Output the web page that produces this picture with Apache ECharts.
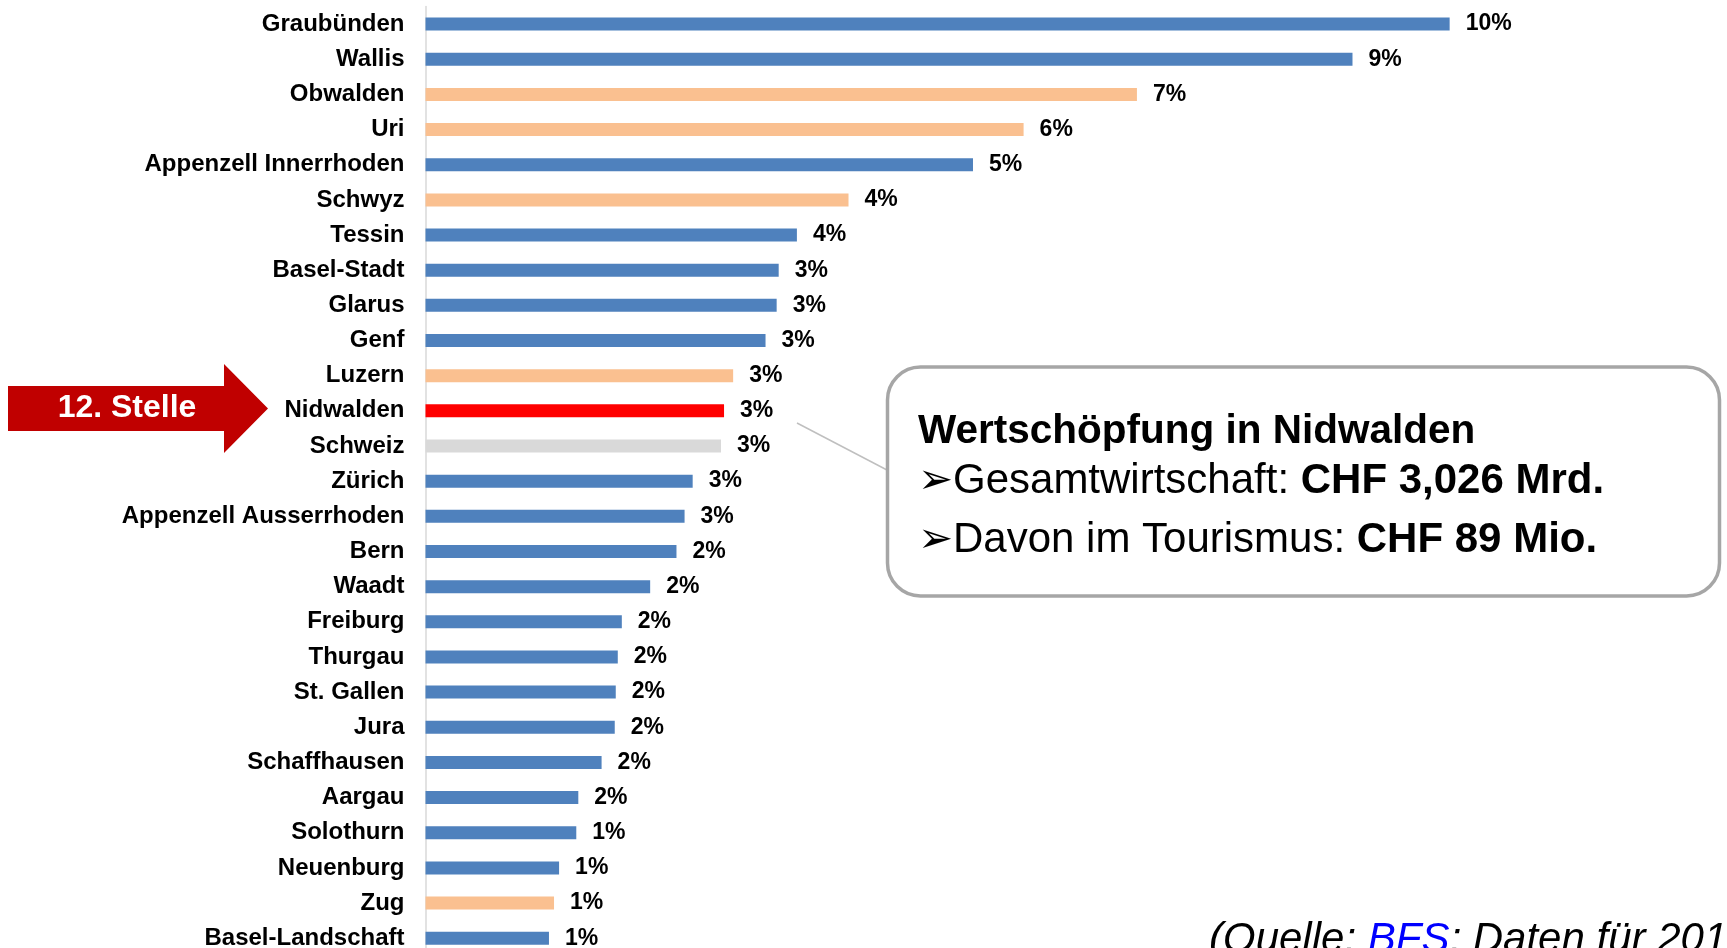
<!DOCTYPE html>
<html>
<head>
<meta charset="utf-8">
<script src="https://cdn.jsdelivr.net/npm/echarts@6/dist/echarts.min.js"></script>
<style>
html,body{margin:0;padding:0;background:#fff;}
#chart{width:1727px;height:948px;}
</style>
</head>
<body>
<div id="chart"></div>
<script>
// Tourism share of value added (%), by canton
const categories = ["Graubünden","Wallis","Obwalden","Uri","Appenzell Innerrhoden","Schwyz","Tessin","Basel-Stadt","Glarus","Genf","Luzern","Nidwalden","Schweiz","Zürich","Appenzell Ausserrhoden","Bern","Waadt","Freiburg","Thurgau","St. Gallen","Jura","Schaffhausen","Aargau","Solothurn","Neuenburg","Zug","Basel-Landschaft"];
const values = [10.12,9.16,7.03,5.91,5.41,4.18,3.67,3.49,3.47,3.36,3.04,2.95,2.92,2.64,2.56,2.48,2.22,1.94,1.90,1.88,1.87,1.74,1.51,1.49,1.32,1.27,1.22];
// group of each canton: other, zentral (Zentralschweiz), nw (Nidwalden), ch (Schweiz total)
const groups = ["other","other","zentral","zentral","other","zentral","other","other","other","other","zentral","nw","ch","other","other","other","other","other","other","other","other","other","other","other","other","zentral","other"];
const groupColors = {other:"#4F81BD", zentral:"#FAC090", nw:"#FF0000", ch:"#D9D9D9"};

const chart = echarts.init(document.getElementById('chart'), null, {renderer:'canvas'});
const FONT = "'Liberation Sans', Arial, sans-serif";
chart.setOption({
  animation:false,
  backgroundColor:'#ffffff',
  grid:{left:425.5, top:6.5, width:1214.4, height:949.3, containLabel:false, outerBoundsMode:'none'},
  xAxis:{type:'value', min:0, max:12, show:false, splitLine:{show:false}},
  yAxis:{type:'category', data:categories, inverse:true,
    axisLine:{show:true, lineStyle:{color:'#D9D9D9', width:1.5}},
    axisTick:{show:false},
    axisLabel:{color:'#000', fontFamily:FONT, fontWeight:'bold', fontSize:24, margin:21}
  },
  series:[{
    type:'bar',
    barWidth:13,
    data: values.map((v,i)=>({value:v, itemStyle:{color:groupColors[groups[i]]}})),
    label:{show:true, position:'right', distance:16, color:'#000', fontFamily:FONT, fontWeight:'bold', fontSize:23,
      formatter:p=>Math.round(p.value)+'%'}
  }],
  graphic:[
    {type:'polygon', shape:{points:[[8,386],[224,386],[224,364],[268,408.5],[224,453],[224,431],[8,431]]}, style:{fill:'#C00000'}},
    {type:'text', x:127, y:408.5, style:{text:'12. Stelle', fill:'#fff', font:"bold 32px 'Liberation Sans', Arial, sans-serif", textAlign:'center', textVerticalAlign:'middle'}},
    {type:'line', shape:{x1:797, y1:423, x2:887, y2:470}, style:{stroke:'#BFBFBF', lineWidth:1.5}},
    {type:'rect', shape:{x:887.5, y:367, width:832, height:229, r:33}, style:{fill:'#fff', stroke:'#A6A6A6', lineWidth:3.5}},
    {type:'text', x:918, y:432, style:{text:'Wertschöpfung in Nidwalden', fill:'#000', font:"bold 40.5px 'Liberation Sans', Arial, sans-serif", textVerticalAlign:'middle'}},
    {type:'text', x:918, y:481, style:{text:'{a|➢Gesamtwirtschaft: }{b|CHF 3,026 Mrd.}', textVerticalAlign:'middle',
      rich:{a:{fill:'#000', font:"42px 'Liberation Sans', Arial, sans-serif"}, b:{fill:'#000', font:"bold 42px 'Liberation Sans', Arial, sans-serif"}}}},
    {type:'text', x:918, y:540, style:{text:'{a|➢Davon im Tourismus: }{b|CHF 89 Mio.}', textVerticalAlign:'middle',
      rich:{a:{fill:'#000', font:"42px 'Liberation Sans', Arial, sans-serif"}, b:{fill:'#000', font:"bold 42px 'Liberation Sans', Arial, sans-serif"}}}},
    {type:'text', x:1209, y:940, style:{text:'{a|(Quelle: }{b|BFS}{a|; Daten für 201}', textVerticalAlign:'middle',
      rich:{a:{fill:'#000', font:"italic 42px 'Liberation Sans', Arial, sans-serif"}, b:{fill:'#0000FF', font:"italic 42px 'Liberation Sans', Arial, sans-serif"}}}}
  ]
});
</script>
</body>
</html>
